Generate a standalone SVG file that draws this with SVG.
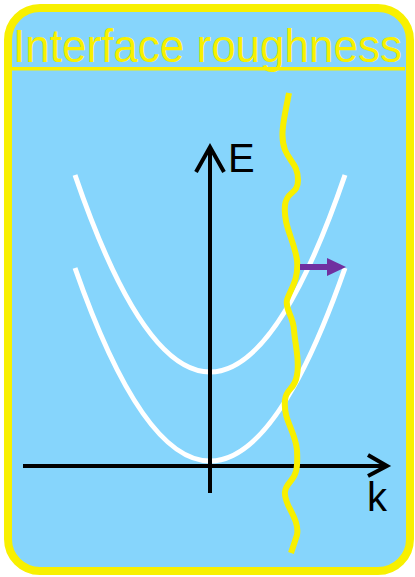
<svg xmlns="http://www.w3.org/2000/svg" width="415" height="577" viewBox="0 0 415 577">
<style>
.frame{fill:#86D5FC;stroke:#F8F000;stroke-width:8}
.title{font-family:"Liberation Sans",Arial,sans-serif;font-size:47px;fill:#F8F000}
.band{fill:none;stroke:#FFFFFF;stroke-width:5}
.axis{fill:none;stroke:#000000;stroke-width:4}
.lbl{font-family:"Liberation Sans",Arial,sans-serif;font-size:40px;fill:#000000}
.wave{fill:none;stroke:#F8F000;stroke-width:6;stroke-linejoin:round}
</style>
<g id="frame">
<rect class="frame" x="8" y="8" width="402" height="563" rx="32" ry="32"/>
<text class="title" x="13" y="62" textLength="389" lengthAdjust="spacingAndGlyphs">Interface roughness</text>
<rect x="12" y="67" width="393" height="3.5" fill="#F8F000"/>
</g>
<g id="bands">
<path class="band" d="M75,175 Q210,569 345,175"/>
<path class="band" d="M75,268 Q210,654 345,268"/>
</g>
<g id="axes">
<path class="axis" d="M210,493 L210,148"/>
<path class="axis" d="M196,172 L210,147 L224,172"/>
<path class="axis" d="M23,466 L386,466"/>
<path class="axis" d="M368,455 L387,466 L368,476"/>
<text class="lbl" x="228" y="172">E</text>
<text class="lbl" x="367" y="511">k</text>
</g>
<g id="interface">
<path class="wave" d="M289,93 C285,115 279,135 285,150 C290,162 298,165 298,180 C298,195 287,190 285,205 C283,225 294,240 297,260 C299,280 290,290 287,300 C285,310 293,315 294,330 C295,345 300,360 297,375 C295,390 286,388 285,400 C283,420 295,430 297,450 C298,470 296,475 290,482 C283,490 284,495 288,505 C293,515 299,525 297,535 L291,553"/>
</g>
<g id="connectors">
<path d="M300,267 L328,267" stroke="#7030A0" stroke-width="6" fill="none"/>
<path d="M327,258 L346,267 L327,276 Z" fill="#7030A0"/>
</g>
</svg>
